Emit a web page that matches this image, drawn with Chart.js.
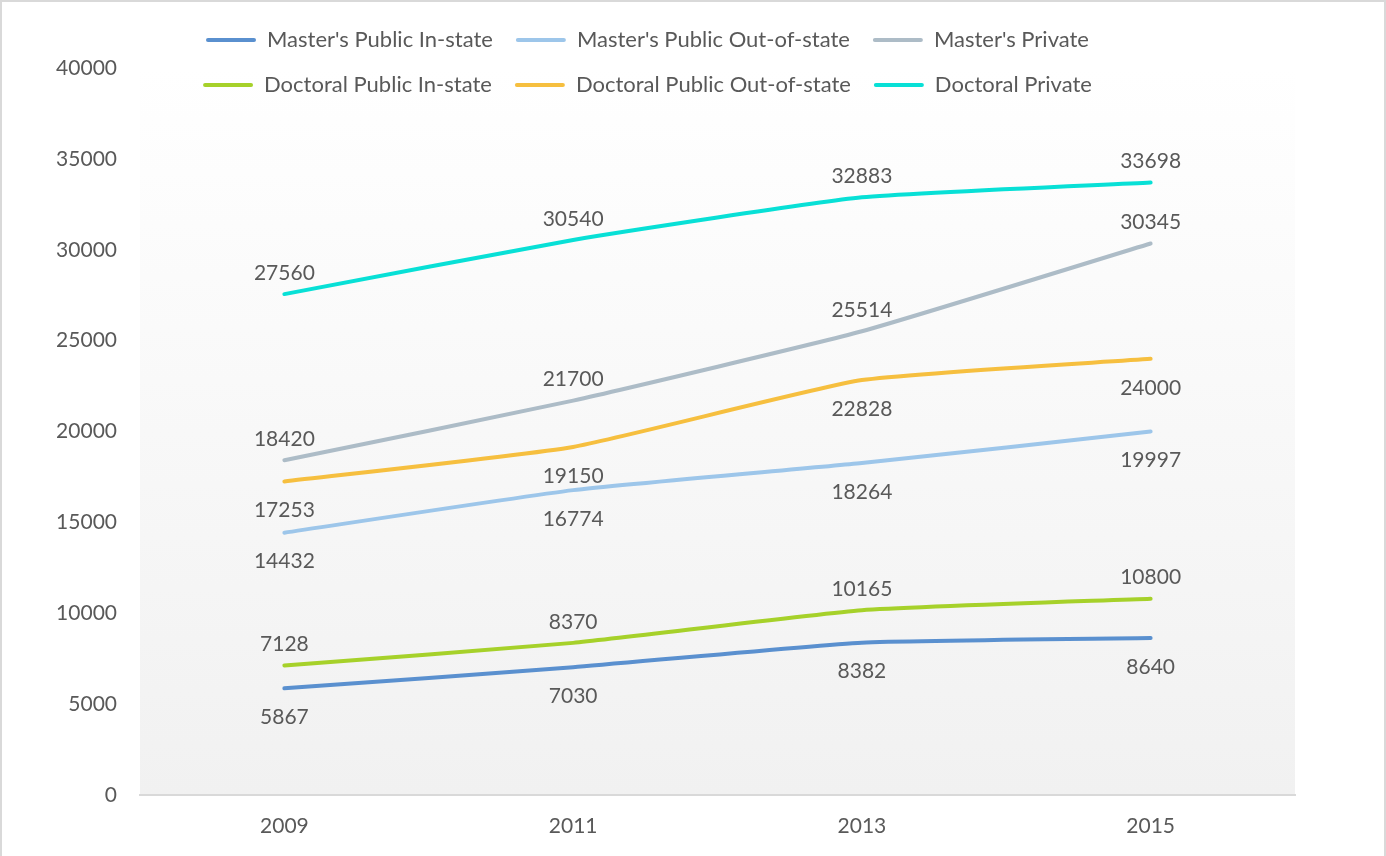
<!DOCTYPE html>
<html>
<head>
<meta charset="utf-8">
<script src="https://cdn.jsdelivr.net/npm/chart.js@4.4.0/dist/chart.umd.min.js"></script>
<style>
    html, body { margin: 0; padding: 0; background: #fff; overflow: hidden; }
    #wrap { position: relative; width: 1386px; height: 856px; }
    #frame { position: absolute; left: 0; top: 0; width: 1386px; height: 900px; box-sizing: border-box;
             border: 2px solid #d9d9d9; pointer-events: none; }
</style>
</head>
<body>
<div id="wrap">
    <canvas id="tuitionChart" width="1386" height="856"></canvas>
    <div id="frame"></div>
</div>
<script>
// Data
const years = ['2009', '2011', '2013', '2015'];
const mastersPublicIn = [5867, 7030, 8382, 8640];
const mastersPublicOut = [14432, 16774, 18264, 19997];
const mastersPrivate = [18420, 21700, 25514, 30345];
const doctoralPublicIn = [7128, 8370, 10165, 10800];
const doctoralPublicOut = [17253, 19150, 22828, 24000];
const doctoralPrivate = [27560, 30540, 32883, 33698];

const FONT = 'Lato, "Open Sans", sans-serif';
const TEXT = '#595959';

function series(label, data, color, place) {
    return {
        label: label, data: data, borderColor: color, backgroundColor: color,
        borderWidth: 4, pointRadius: 0, pointHoverRadius: 0, tension: 0.15,
        borderCapStyle: 'round', borderJoinStyle: 'round', fill: false,
        labelPlace: place
    };
}

// plot area gradient
const plotBg = {
    id: 'plotBg',
    beforeDraw(chart) {
        const { ctx, chartArea: a } = chart;
        const g = ctx.createLinearGradient(0, a.top, 0, a.bottom);
        g.addColorStop(0, '#ffffff');
        g.addColorStop(1, '#f1f1f1');
        ctx.save();
        ctx.fillStyle = g;
        ctx.fillRect(a.left, a.top, a.right - a.left, a.bottom - a.top);
        ctx.restore();
    }
};

// value labels above / below each point
const valueLabels = {
    id: 'valueLabels',
    afterDatasetsDraw(chart) {
        const ctx = chart.ctx;
        ctx.save();
        ctx.font = '21px ' + FONT;
        ctx.fillStyle = TEXT;
        ctx.textAlign = 'center';
        ctx.textBaseline = 'middle';
        chart.data.datasets.forEach((ds, i) => {
            chart.getDatasetMeta(i).data.forEach((pt, j) => {
                const dy = ds.labelPlace === 'above' ? -21 : 29;
                ctx.fillText(String(ds.data[j]), pt.x, pt.y + dy);
            });
        });
        ctx.restore();
    }
};

// three legend items per row; the legend overlaps the top of the plot like the original
const legendFit = {
    id: 'legendFit',
    beforeInit(chart) {
        const fit = chart.legend.fit;
        chart.legend.fit = function () {
            this.maxWidth = Math.min(this.maxWidth, 1000);
            fit.call(this);
            this.height = 62;
        };
    },
    beforeDraw(chart) {
        // grow the box back after layout so the second row isn't clipped
        const lg = chart.legend;
        lg.height = 120;
        lg.bottom = lg.top + 120;
    }
};

const ctx = document.getElementById('tuitionChart').getContext('2d');
new Chart(ctx, {
    type: 'line',
    data: {
        labels: years,
        datasets: [
            series("Master's Public In-state", mastersPublicIn, '#5a90cf', 'below'),
            series("Master's Public Out-of-state", mastersPublicOut, '#9dc6ea', 'below'),
            series("Master's Private", mastersPrivate, '#adbcc7', 'above'),
            series('Doctoral Public In-state', doctoralPublicIn, '#a6d12a', 'above'),
            series('Doctoral Public Out-of-state', doctoralPublicOut, '#f6bf3f', 'below'),
            series('Doctoral Private', doctoralPrivate, '#08e0d6', 'above')
        ]
    },
    options: {
        responsive: false,
        animation: false,
        layout: { padding: { left: 0, right: 91, top: 6, bottom: 0 } },
        plugins: {
            tooltip: { enabled: false },
            legend: {
                position: 'top',
                labels: {
                    color: TEXT,
                    font: { family: FONT, size: 22 },
                    boxWidth: 50,
                    boxHeight: 4,
                    padding: 23,
                    useBorderRadius: true,
                    borderRadius: 2,
                    generateLabels(chart) {
                        return Chart.defaults.plugins.legend.labels.generateLabels(chart).map(l => {
                            l.fillStyle = l.strokeStyle;
                            l.lineWidth = 0;
                            return l;
                        });
                    }
                }
            }
        },
        scales: {
            x: {
                offset: true,
                grid: { display: false, drawTicks: false },
                border: { color: '#d9d9d9', width: 2 },
                ticks: { color: TEXT, font: { family: FONT, size: 21 }, padding: 19 },
                afterFit(scale) { scale.height = 61; }
            },
            y: {
                min: 0, max: 40000,
                grid: { display: false, drawTicks: false },
                border: { display: false },
                ticks: {
                    stepSize: 5000, color: TEXT, font: { family: FONT, size: 21 }, padding: 23,
                    callback: v => String(v)
                },
                afterFit(scale) { scale.width = 140; }
            }
        }
    },
    plugins: [plotBg, valueLabels, legendFit]
});
</script>
</body>
</html>
